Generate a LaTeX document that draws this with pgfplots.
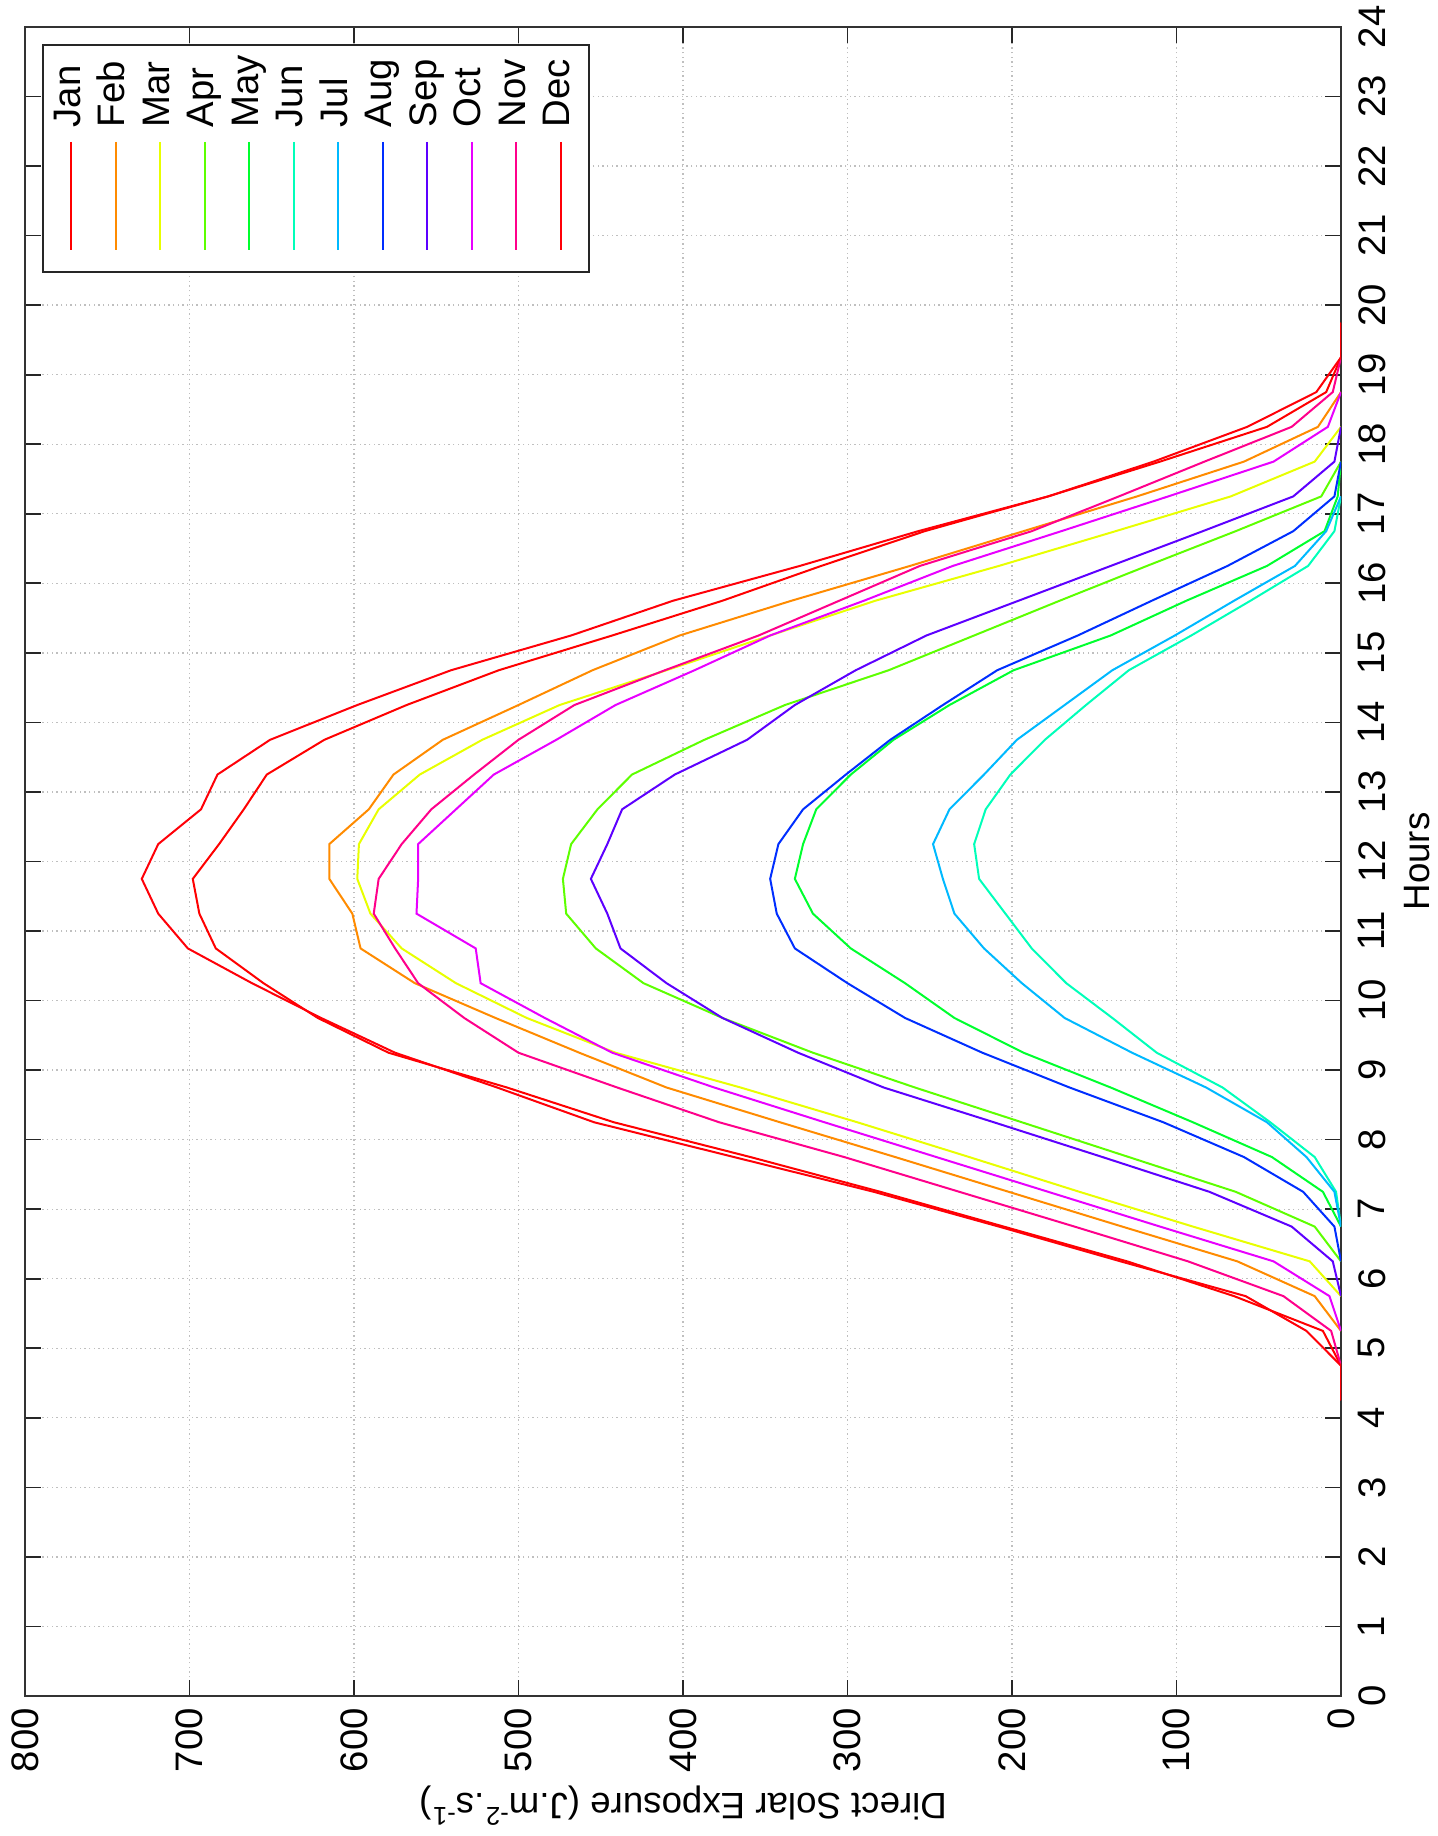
\documentclass[border=0pt]{standalone}
\usepackage{fontspec}
\setmainfont{Liberation Sans}
\usepackage{pgfplots}
\pgfplotsset{compat=1.18}
\definecolor{cJan}{hsb}{0.0,1,1}
\definecolor{cFeb}{hsb}{0.0909,1,1}
\definecolor{cMar}{hsb}{0.1818,1,1}
\definecolor{cApr}{hsb}{0.2727,1,1}
\definecolor{cMay}{hsb}{0.3636,1,1}
\definecolor{cJun}{hsb}{0.4545,1,1}
\definecolor{cJul}{hsb}{0.5455,1,1}
\definecolor{cAug}{hsb}{0.6364,1,1}
\definecolor{cSep}{hsb}{0.7273,1,1}
\definecolor{cOct}{hsb}{0.8182,1,1}
\definecolor{cNov}{hsb}{0.9091,1,1}
\definecolor{cDec}{hsb}{0.995,1,1}
\newcommand\tickfont{\fontsize{11.5}{13}\selectfont}
\newcommand\labfont{\fontsize{11}{13}\selectfont}
\newcommand\legfont{\fontsize{11.5}{13}\selectfont}
\begin{document}
\begin{tikzpicture}
\begin{axis}[
  scale only axis, width=394.8pt, height=500.7pt,
  xmin=0, xmax=800, ymin=0, ymax=24,
  x dir=reverse,
  xtick={0,100,...,800}, ytick={0,1,...,24},
  grid=major, grid style={draw=black!25, densely dotted, line width=0.4pt},
  axis line style={draw=black!80, line width=0.5pt},
  tick style={draw=black!85, line width=0.5pt},
  major tick length=4.8pt, tick align=inside,
  yticklabel pos=right,
  /pgf/number format/assume math mode=true,
  xticklabel style={rotate=90, anchor=east, inner xsep=3.5pt, font=\tickfont},
  yticklabel style={rotate=90, anchor=north, inner ysep=5pt, font=\tickfont},
  xlabel={Direct Solar Exposure (J.m\textsuperscript{-2}.s\textsuperscript{-1})},
  ylabel={Hours},
  every axis x label/.style={at={(ticklabel cs:0.5)}, rotate=180, anchor=south, inner sep=0.5pt, font=\labfont},
  every axis y label/.style={at={(ticklabel cs:0.5)}, rotate=90, anchor=north, inner sep=0.3pt, font=\labfont},
  every axis plot/.append style={line width=0.6pt},
]
\addplot[cJan] table[x=e,y=h] {
h e
4.25 0
4.75 0
5.25 11
5.75 65
6.25 130
6.75 205
7.25 280
7.75 359
8.25 442
8.75 507
9.25 579
9.75 622
10.25 655
10.75 684
11.25 694
11.75 698
12.25 682
12.75 667
13.25 653
13.75 618
14.25 568
14.75 512
15.25 443
15.75 376
16.25 316
16.75 253
17.25 178
17.75 110
18.25 45
18.75 9
19.25 0
19.75 0
};
\addplot[cFeb] table[x=e,y=h] {
h e
5.25 0
5.75 16
6.25 63
6.75 133
7.25 202
7.75 271
8.25 341
8.75 410
9.25 463
9.75 514
10.25 563
10.75 596
11.25 601
11.75 615
12.25 615
12.75 591
13.25 576
13.75 546
14.25 500
14.75 455
15.25 402
15.75 334
16.25 262
16.75 193
17.25 124
17.75 59
18.25 14
18.75 0
};
\addplot[cMar] table[x=e,y=h] {
h e
5.75 0
6.25 19
6.75 90
7.25 159
7.75 226
8.25 294
8.75 365
9.25 441
9.75 495
10.25 538
10.75 571
11.25 590
11.75 598
12.25 597
12.75 585
13.25 560
13.75 522
14.25 475
14.75 410
15.25 347
15.75 283
16.25 208
16.75 137
17.25 67
17.75 16
18.25 0
};
\addplot[cApr] table[x=e,y=h] {
h e
6.25 0
6.75 16
7.25 64
7.75 129
8.25 194
8.75 259
9.25 321
9.75 376
10.25 424
10.75 453
11.25 471
11.75 473
12.25 468
12.75 452
13.25 431
13.75 387
14.25 338
14.75 275
15.25 223
15.75 171
16.25 118
16.75 64
17.25 12
17.75 0
};
\addplot[cMay] table[x=e,y=h] {
h e
6.75 0
7.25 11
7.75 42
8.25 90
8.75 140
9.25 193
9.75 235
10.25 265
10.75 298
11.25 321
11.75 332
12.25 327
12.75 319
13.25 298
13.75 272
14.25 238
14.75 199
15.25 140
15.75 94
16.25 45
16.75 10
17.25 2
17.75 0
};
\addplot[cJun] table[x=e,y=h] {
h e
6.75 0
7.25 3
7.75 16
8.25 43
8.75 72
9.25 112
9.75 139
10.25 167
10.75 188
11.25 204
11.75 220
12.25 223
12.75 216
13.25 201
13.75 180
14.25 155
14.75 129
15.25 91
15.75 55
16.25 20
16.75 4
17.25 0
};
\addplot[cJul] table[x=e,y=h] {
h e
6.75 0
7.25 4
7.75 21
8.25 45
8.75 82
9.25 127
9.75 168
10.25 194
10.75 217
11.25 235
11.75 242
12.25 248
12.75 238
13.25 217
13.75 197
14.25 168
14.75 139
15.25 101
15.75 65
16.25 28
16.75 9
17.25 0
};
\addplot[cAug] table[x=e,y=h] {
h e
6.25 0
6.75 4
7.25 23
7.75 59
8.25 108
8.75 165
9.25 218
9.75 265
10.25 300
10.75 332
11.25 343
11.75 347
12.25 342
12.75 327
13.25 301
13.75 274
14.25 242
14.75 209
15.25 160
15.75 115
16.25 69
16.75 29
17.25 4
17.75 0
};
\addplot[cSep] table[x=e,y=h] {
h e
5.75 0
6.25 5
6.75 30
7.25 80
7.75 145
8.25 211
8.75 278
9.25 330
9.75 376
10.25 410
10.75 438
11.25 446
11.75 456
12.25 446
12.75 437
13.25 405
13.75 361
14.25 332
14.75 295
15.25 252
15.75 196
16.25 140
16.75 84
17.25 29
17.75 4
18.25 0
};
\addplot[cOct] table[x=e,y=h] {
h e
5.25 0
5.75 7
6.25 41
6.75 110
7.25 178
7.75 246
8.25 314
8.75 381
9.25 443
9.75 484
10.25 523
10.75 526
11.25 562
11.75 561
12.25 561
12.75 538
13.25 515
13.75 477
14.25 441
14.75 393
15.25 347
15.75 290
16.25 236
16.75 170
17.25 105
17.75 41
18.25 8
18.75 0
};
\addplot[cNov] table[x=e,y=h] {
h e
4.75 0
5.25 6
5.75 35
6.25 93
6.75 162
7.25 232
7.75 302
8.25 378
8.75 440
9.25 500
9.75 533
10.25 561
10.75 575
11.25 588
11.75 585
12.25 571
12.75 553
13.25 527
13.75 500
14.25 466
14.75 411
15.25 354
15.75 305
16.25 256
16.75 188
17.25 135
17.75 83
18.25 30
18.75 5
19.25 0
};
\addplot[cDec] table[x=e,y=h] {
h e
4.25 0
4.75 0
5.25 21
5.75 58
6.25 134
6.75 208
7.25 284
7.75 369
8.25 454
8.75 513
9.25 575
9.75 620
10.25 662
10.75 701
11.25 719
11.75 729
12.25 719
12.75 693
13.25 683
13.75 651
14.25 598
14.75 541
15.25 468
15.75 406
16.25 329
16.75 257
17.25 178
17.75 114
18.25 57
18.75 15
19.25 0
19.75 0
};
\coordinate (sw) at (axis description cs:0,0);
\coordinate (ne) at (axis description cs:1,1);
\coordinate (tl) at (axis description cs:0,1);
\end{axis}
% legend (rotated, as in the reference)
\draw[black!85, line width=0.6pt, fill=white] ([xshift=5.4pt,yshift=-5.4pt]tl) rectangle ++(163.8pt,-68.1pt);
\foreach \m [count=\i from 0] in {Jan,Feb,Mar,Apr,May,Jun,Jul,Aug,Sep,Oct,Nov,Dec}{
  \draw[c\m, line width=0.6pt] ([xshift={13.9pt+\i*13.35pt}, yshift=-34.5pt]tl) -- ++(0,-32.4pt);
  \node[rotate=90, anchor=mid west, inner sep=0pt, font=\legfont] at ([xshift={13.9pt+\i*13.35pt}, yshift=-30.3pt]tl) {\m};
}
\pgfresetboundingbox
\path[use as bounding box] ([xshift=-7.5pt,yshift=-42pt]sw) rectangle ([xshift=28.8pt,yshift=8.1pt]ne);
\end{tikzpicture}
\end{document}
